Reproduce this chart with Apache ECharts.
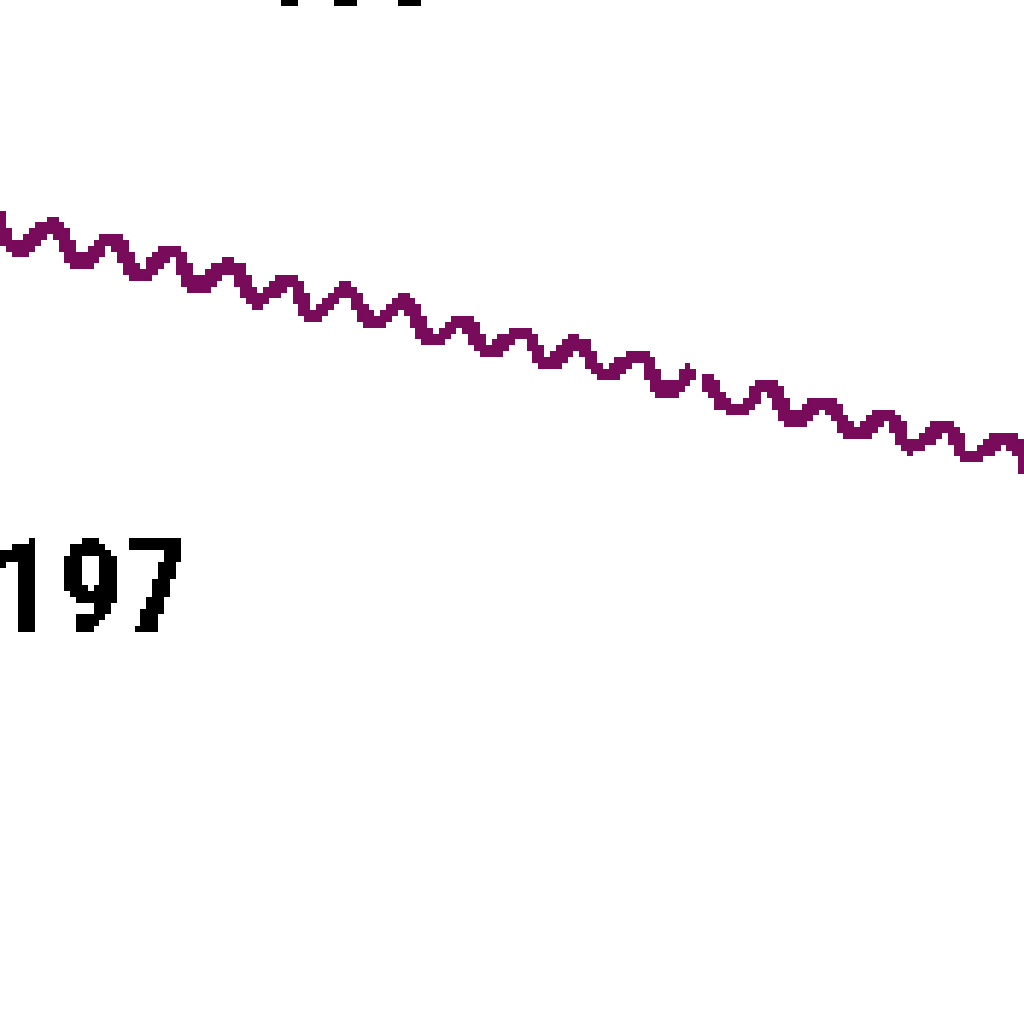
<!DOCTYPE html>
<html>
<head>
<meta charset="utf-8">
<style>
  html, body { margin: 0; padding: 0; background: #fff; }
  #chart { width: 1024px; height: 1024px; }
  /* coarse render, blown up without smoothing */
  #chart canvas { image-rendering: pixelated; filter: url(#crisp); }
</style>
<script src="https://cdn.jsdelivr.net/npm/echarts@6/dist/echarts.min.js"></script>
</head>
<body>
<svg width="0" height="0" style="position:absolute">
  <filter id="crisp" color-interpolation-filters="sRGB">
    <feComponentTransfer><feFuncA type="discrete" tableValues="0 1"/></feComponentTransfer>
  </filter>
</svg>
<div id="chart"></div>
<script>
// position along the track and level (null = break in the line)
var tVals = [-1.5, 5, 13, 20.5, 27.5, 35, 43, 49, 57.5, 64.5, 72.25, 78, 86.25, 93.5, 101,
  108, 115.5, 122, 130.25, 137.25, 143.75, 151.5, 159.5, 166.5, 173.25, 174.75,
  176.25, 185, 191.5, 198.75, 206, 214, 221.5, 228, 236.25, 242.75, 250.75, 258];
var level = [205, 193.5, 199.5, 190, 196.5, 187, 193.5, 184.5, 189.25, 180.75, 186.25, 177, 183.5, 175.5, 180.5,
  170.75, 176, 168.25, 173, 165, 170.25, 162.25, 167.25, 158, 164.5, null,
  162.25, 153.25, 159.75, 150.75, 155.5, 147.5, 152.5, 144.5, 149.5, 141.5, 146.75, 135];
var labelTop = "400";
var labelLow = "197";

var chart = echarts.init(document.getElementById("chart"), null, {
    renderer: "canvas",
    devicePixelRatio: 1 / 5.85
});

var points = tVals.map(function (t, i) { return [t, level[i]]; });

var labelStyle = {
    fontSize: 132,
    fontWeight: "bold",
    fontFamily: '"Liberation Sans Narrow", "Roboto Condensed", Roboto',
    fill: "#000",
    align: "left",
    verticalAlign: "middle"
};

chart.setOption({
    backgroundColor: "transparent",
    animation: false,
    grid: { left: 0, right: 0, top: 0, bottom: 0 },
    xAxis: { type: "value", min: 0, max: 256, show: false },
    yAxis: { type: "value", min: 0, max: 256, show: false },
    graphic: [
        {
            type: "text",
            style: Object.assign({ x: 243, y: -27, text: labelTop }, labelStyle)
        },
        {
            type: "text",
            style: Object.assign({ x: -10, y: 599, text: labelLow }, labelStyle)
        }
    ],
    series: [{
        type: "line",
        data: points,
        smooth: true,
        symbol: "none",
        connectNulls: false,
        clip: true,
        lineStyle: { color: "#790b5b", width: 15 }
    }]
});
</script>
</body>
</html>
